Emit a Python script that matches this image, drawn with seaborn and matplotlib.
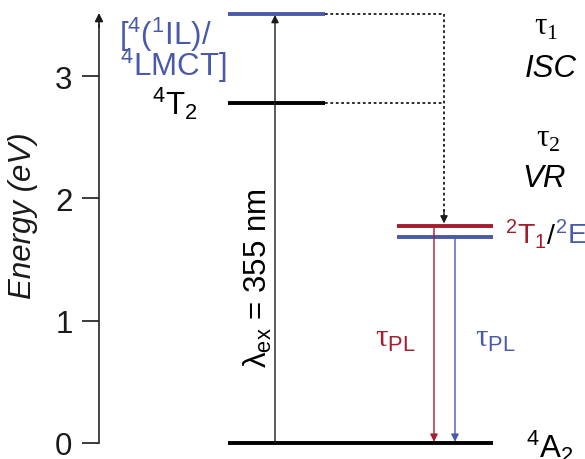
import matplotlib
matplotlib.use("Agg")
import matplotlib.pyplot as plt
import seaborn as sns
import pandas as pd

# ---------------- data ----------------
level_names = ["4IL/4LMCT", "4T2", "2T1", "2E", "4A2"]
level_energy = [3.51, 2.78, 1.775, 1.685, 0.0]          # eV
yticks = [0, 1, 2, 3]
excitation_label = r"$λ_{ex}$ = 355 nm"

BLUE = "#4a5aa8"
RED = "#a31d2f"
BLACK = "#000000"

sns.set_theme(style="ticks")
plt.rcParams["font.family"] = ["Liberation Sans", "DejaVu Sans"]
plt.rcParams["mathtext.fontset"] = "custom"
plt.rcParams["mathtext.rm"] = "Liberation Sans"
plt.rcParams["mathtext.it"] = "Liberation Sans:italic"
plt.rcParams["mathtext.sf"] = "Liberation Serif"
plt.rcParams["mathtext.default"] = "regular"

FS = 22.5
fig = plt.figure(figsize=(5.85, 4.6), dpi=100)
ax = fig.add_axes([99 / 585, 16 / 460, 486 / 585, 430 / 460])
ax.set_xlim(0, 486)
ax.set_ylim(0, 3.516)

E = dict(zip(level_names, level_energy))

# level lines (x extents are layout)
levels = pd.DataFrame({
    "name": level_names,
    "E": level_energy,
    "x0": [129, 129, 298, 298, 129],
    "x1": [226, 226, 394, 394, 394],
    "color": [BLUE, BLACK, RED, BLUE, BLACK],
})
for _, r in levels.iterrows():
    sns.lineplot(x=[r.x0, r.x1], y=[r.E, r.E], ax=ax, color=r.color,
                 lw=2.8, solid_capstyle="butt", estimator=None, sort=False,
                 clip_on=False)

# dotted relaxation paths
xd = 345
dot = (0, (1.5, 1.5))
for nm in ["4IL/4LMCT", "4T2"]:
    ax.plot([226, xd], [E[nm], E[nm]], ls=dot, color="k", lw=1.3)
ax.plot([xd, xd], [E["4IL/4LMCT"], E["2T1"] + 0.09], ls=dot, color="k", lw=1.3)
ax.annotate("", xy=(xd, E["2T1"] + 0.02), xytext=(xd, E["2T1"] + 0.12),
            arrowprops=dict(arrowstyle="-|>", color="k", lw=1.0,
                            mutation_scale=11, shrinkA=0, shrinkB=0))

# excitation arrow
ax.annotate("", xy=(176, E["4IL/4LMCT"] - 0.01), xytext=(176, E["4A2"]),
            arrowprops=dict(arrowstyle="-|>", color="k", lw=1.0,
                            mutation_scale=11, shrinkA=0, shrinkB=0))
# emission arrows
ax.annotate("", xy=(335, E["4A2"] + 0.01), xytext=(335, E["2T1"]),
            arrowprops=dict(arrowstyle="-|>", color=RED, lw=1.0,
                            mutation_scale=11, shrinkA=0, shrinkB=0))
ax.annotate("", xy=(356, E["4A2"] + 0.01), xytext=(356, E["2E"]),
            arrowprops=dict(arrowstyle="-|>", color=BLUE, lw=1.0,
                            mutation_scale=11, shrinkA=0, shrinkB=0))

# axis styling
sns.despine(ax=ax, bottom=True)
ax.spines["left"].set_linewidth(1.2)
ax.spines["left"].set_bounds(0, 3.42)
ax.annotate("", xy=(0, 3.516), xytext=(0, 3.40), annotation_clip=False,
            arrowprops=dict(arrowstyle="-|>", color="k", lw=1.2,
                            mutation_scale=12, shrinkA=0, shrinkB=0))
ax.set_xticks([])
ax.set_yticks(yticks)
ax.set_yticklabels([str(t) for t in yticks], fontsize=FS)
ax.tick_params(axis="y", length=12, width=1.2, pad=7, colors="k")
ax.set_ylabel("Energy (eV)", fontsize=FS, style="italic", color="k")
ax.yaxis.set_label_coords(-0.126, 0.53)
ax.set_facecolor("white")
fig.patch.set_facecolor("white")

kw = dict(fontsize=FS, va="baseline", clip_on=False)
# left labels
ax.text(20, 3.263, r"$[^{4}(^{1}IL)/$", color=BLUE, ha="left", **kw)
ax.text(21, 3.005, r"$^{4}LMCT]$", color=BLUE, ha="left", **kw)
ax.text(53, 2.69, r"$^{4}T_{2}$", color=BLACK, ha="left", **kw)

# right process labels
ax.text(447, 3.344, r"$\mathsf{τ}_{\mathsf{1}}$", color=BLACK, ha="center", **kw)
ax.text(452, 3.00, "ISC", color=BLACK, ha="center", style="italic", **kw)
ax.text(449, 2.43, r"$\mathsf{τ}_{\mathsf{2}}$", color=BLACK, ha="center", **kw)
ax.text(445, 2.10, "VR", color=BLACK, ha="center", style="italic", **kw)

# state labels, chained so the pieces sit side by side on one baseline
FS2 = 20.5
yb = 1.635
t1 = ax.text(406, yb, r"$^{2}T_{1}$", color=RED, ha="left",
             fontsize=FS2, va="baseline", clip_on=False)
sl = ax.annotate("/", xy=(1, yb), xycoords=(t1, ax.transData),
                 color=BLACK, ha="left", fontsize=FS2, va="baseline",
                 annotation_clip=False)
ax.annotate(r"$^{2}E$", xy=(1, yb), xycoords=(sl, ax.transData),
            color=BLUE, ha="left", fontsize=FS2, va="baseline",
            annotation_clip=False)
ax.text(427, -0.114, r"$^{4}A_{2}$", color=BLACK, ha="left", **kw)

# lifetimes
ax.text(276, 0.793, r"$\mathsf{τ}_{PL}$", color=RED, ha="left", **kw)
ax.text(376, 0.793, r"$\mathsf{τ}_{PL}$", color=BLUE, ha="left", **kw)

# excitation label
ax.text(159, 1.357, excitation_label, color=BLACK, fontsize=FS, rotation=90,
        ha="center", va="center")

fig.savefig("out.png", dpi=100, facecolor="white")
